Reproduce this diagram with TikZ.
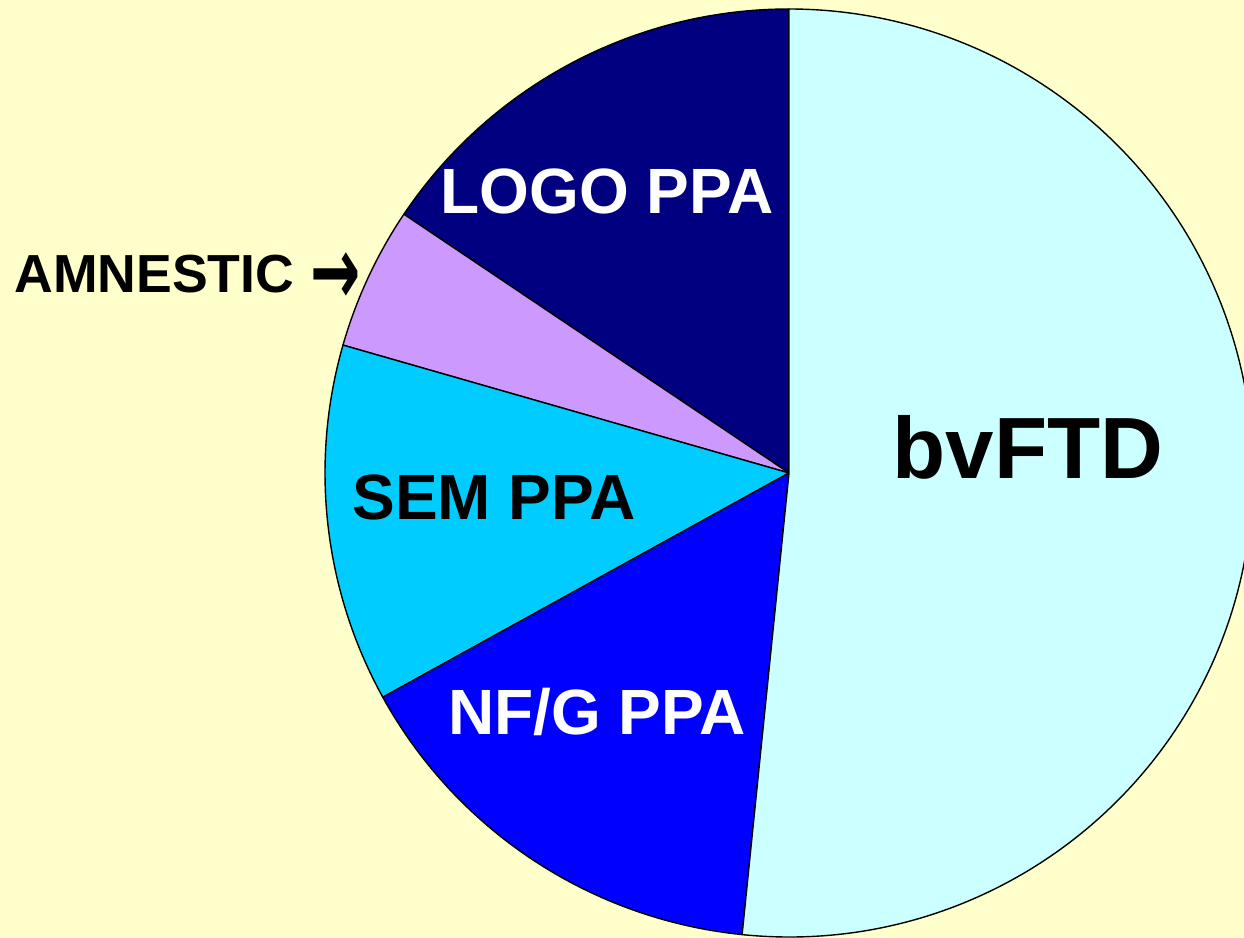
\documentclass[tikz,border=0pt]{standalone}
\usepackage{fontspec}
\setmainfont{Liberation Sans}
\newfontfamily\arrowfont{DejaVu Sans}
\definecolor{bgyellow}{HTML}{FFFFCC}
\definecolor{bvcol}{HTML}{CCFFFF}
\definecolor{logocol}{HTML}{000080}
\definecolor{amncol}{HTML}{CC99FF}
\definecolor{semcol}{HTML}{00CCFF}
\definecolor{nfgcol}{HTML}{0000FF}
\begin{document}
\begin{tikzpicture}[x=0.5pt,y=0.5pt,
        slicelabel/.style={anchor=base,inner sep=0pt,font=\bfseries\fontsize{32}{32}\selectfont}]
        %% background
        \fill[bgyellow] (0,0) rectangle (1244,938);
        \useasboundingbox (0,0) rectangle (1244,938);
        %% pie slices
        \coordinate (c) at (789,465);
        \foreach \a/\b/\col in {90/146.1/logocol,146.1/164/amncol,164/208.9/semcol,
                                208.9/264.2/nfgcol,264.2/450/bvcol}
            \filldraw[fill=\col,draw=black,line width=0.7pt,line join=round]
                (c) -- ++(\a:232pt) arc (\a:\b:232pt) -- cycle;
        %% labels
        \node[slicelabel,text=white] (logo) at (607,724) {LOGO PPA};
        \node[slicelabel] (sem) at (494,418) {SEM PPA};
        \node[slicelabel,text=white] (nfg) at (597,203) {NF/G PPA};
        \node[slicelabel,font=\bfseries\fontsize{43.5}{43.5}\selectfont] (bv) at (1028,459) {bvFTD};
        \node[slicelabel,anchor=base west,font=\bfseries\fontsize{26.8}{26.8}\selectfont] (amn) at (14,645)
            {AMNESTIC\hspace{0.3em}\raisebox{-6pt}{\arrowfont\fontsize{30}{30}\selectfont\scalebox{1}[1.6]{→}}};
    \end{tikzpicture}
\end{document}
